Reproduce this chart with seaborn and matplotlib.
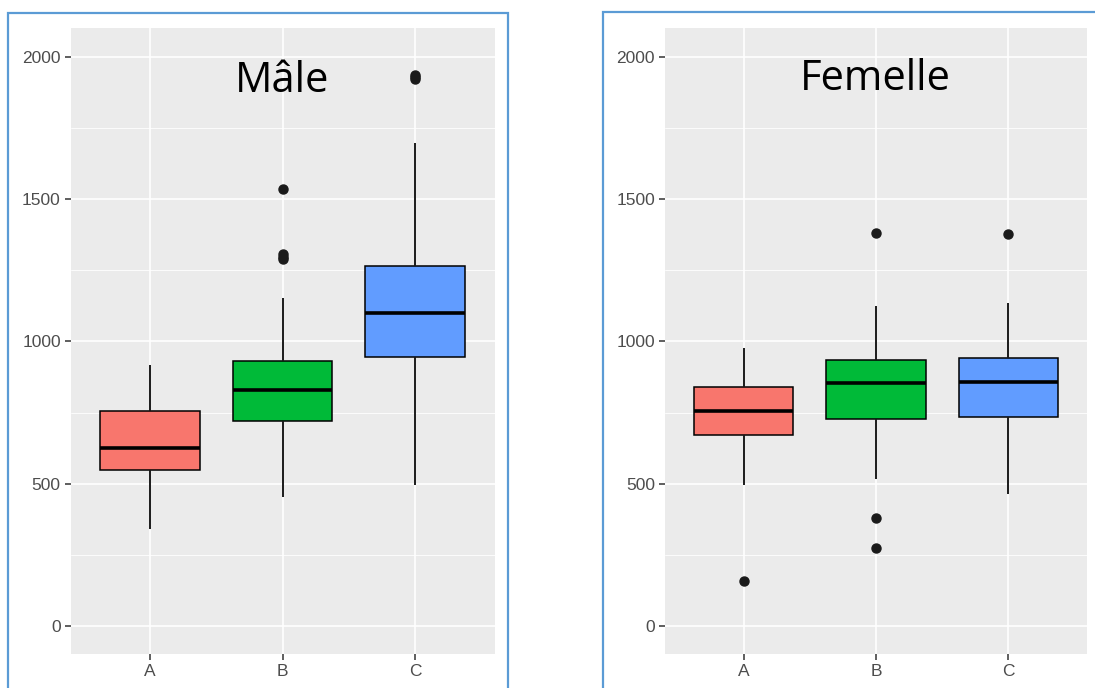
import matplotlib
matplotlib.use("Agg")
import matplotlib.pyplot as plt
from matplotlib.patches import Rectangle
from matplotlib.ticker import MultipleLocator
import pandas as pd
import seaborn as sns

# Observations per group, males
male_A = [340, 430, 500, 550, 580, 605, 624, 660, 710, 756, 800, 860, 919]
male_B = [452, 540, 610, 660, 700, 721, 750, 775, 795, 812, 828, 850, 870,
          895, 915, 931, 1153, 1290, 1298, 1308, 1537]
male_C = [494, 700, 820, 900, 946, 1000, 1040, 1070, 1100, 1140, 1180, 1225,
          1265, 1698, 1922, 1930, 1936]

# Observations per group, females
female_A = [157, 494, 600, 673, 700, 730, 756, 780, 810, 841, 880, 930, 977]
female_B = [276, 381, 517, 650, 727, 770, 800, 830, 853, 880, 900, 920, 936,
            1000, 1060, 1125, 1381]
female_C = [465, 600, 690, 734, 780, 820, 856, 880, 910, 942, 1040, 1137, 1378]

groups = ["A", "B", "C"]
panel_titles = ["Mâle", "Femelle"]
colors = ["#F8766D", "#00BA38", "#619CFF"]


def long_table(a, b, c):
    rows = [(g, v) for g, vals in zip(groups, (a, b, c)) for v in vals]
    return pd.DataFrame(rows, columns=["groupe", "valeur"])


tables = [long_table(male_A, male_B, male_C),
          long_table(female_A, female_B, female_C)]

sns.set_theme(style="darkgrid")
plt.rcParams["font.family"] = ["Liberation Sans", "DejaVu Sans"]
plt.rcParams.update({
    "xtick.bottom": True, "ytick.left": True,
    "xtick.direction": "out", "ytick.direction": "out",
    "xtick.major.size": 4.0, "ytick.major.size": 4.0,
    "xtick.major.width": 1.1, "ytick.major.width": 1.1,
    "xtick.color": "#333333", "ytick.color": "#333333",
})

fig = plt.figure(figsize=(10.95, 6.88), dpi=100)
fig.patch.set_facecolor("white")

axes_boxes = [[0.0644, 0.0487, 0.3872, 0.9099],
              [0.6071, 0.0487, 0.3858, 0.9099]]
title_pos = [(282 / 1095, 1 - 92 / 688), (875 / 1095, 1 - 90 / 688)]
frames = [(8, 13, 500), (603, 12, 520)]

for df, box, title, tpos, frame in zip(tables, axes_boxes, panel_titles,
                                       title_pos, frames):
    ax = fig.add_axes(box)
    ax.set_facecolor("#EBEBEB")
    sns.boxplot(
        data=df, x="groupe", y="valeur", hue="groupe", order=groups,
        hue_order=groups, palette=colors, saturation=1, width=0.75,
        linecolor="black", linewidth=1.1, fliersize=6.5, showcaps=False,
        legend=False, ax=ax,
        medianprops={"linewidth": 2.6, "color": "black"},
        whiskerprops={"linewidth": 1.4, "color": "#1a1a1a"},
        flierprops={"marker": "o", "markerfacecolor": "#1a1a1a",
                    "markeredgecolor": "#1a1a1a"},
        zorder=3,
    )
    ax.set_xlim(-0.6, 2.6)
    ax.set_ylim(-100, 2100)
    ax.yaxis.set_major_locator(MultipleLocator(500))
    ax.yaxis.set_minor_locator(MultipleLocator(250))
    ax.grid(which="major", color="white", linewidth=1.2)
    ax.grid(which="minor", axis="y", color="white", linewidth=0.6)
    ax.set_axisbelow(True)
    ax.set_xlabel("")
    ax.set_ylabel("")
    for s in ax.spines.values():
        s.set_visible(False)
    ax.tick_params(axis="both", which="major", left=True, bottom=True,
                   length=4.0, width=1.1, color="#333333",
                   labelcolor="#4D4D4D", labelsize=12.5, pad=3)
    ax.tick_params(axis="y", which="minor", left=False, length=0)
    for t in ax.yaxis.get_major_ticks() + ax.xaxis.get_major_ticks():
        t.tick1line.set_visible(True)

    fig.text(tpos[0], tpos[1], title, ha="center", va="baseline",
             fontsize=30, color="black", family=["Open Sans", "DejaVu Sans"])

    x0, y0, w = frame
    fig.patches.append(Rectangle((x0 / 1095, -0.05), w / 1095,
                                 1.05 - y0 / 688, transform=fig.transFigure,
                                 fill=False, edgecolor="#5B9BD5",
                                 linewidth=1.6, zorder=10))

fig.savefig("out.png", dpi=100, facecolor="white")
